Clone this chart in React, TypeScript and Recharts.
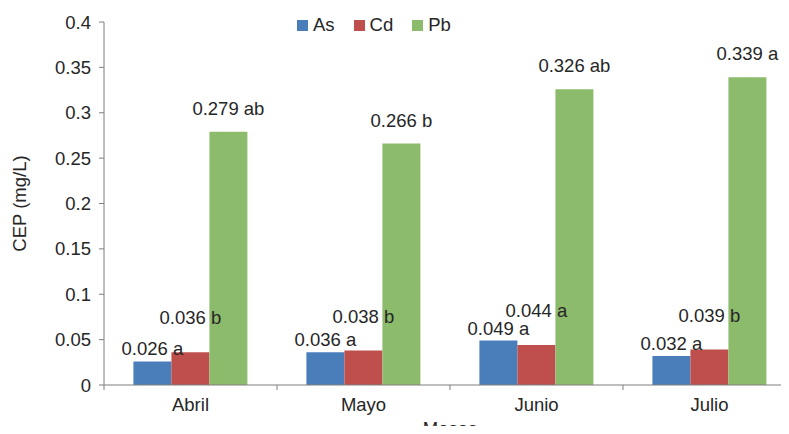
import { Bar, BarChart, LabelList, Legend, XAxis, YAxis } from "recharts"

const months = ["Abril", "Mayo", "Junio", "Julio"]

const asValues = [0.026, 0.036, 0.049, 0.032]
const cdValues = [0.036, 0.038, 0.044, 0.039]
const pbValues = [0.279, 0.266, 0.326, 0.339]

const asLetters = ["a", "a", "a", "a"]
const cdLetters = ["b", "b", "a", "b"]
const pbLetters = ["ab", "b", "ab", "a"]

const yTicks = [0, 0.05, 0.1, 0.15, 0.2, 0.25, 0.3, 0.35, 0.4]

const SERIES = [
    { key: "As", label: "asLabel", color: "#4a7ebb", lift: 6 },
    { key: "Cd", label: "cdLabel", color: "#be4f4c", lift: 28 },
    { key: "Pb", label: "pbLabel", color: "#8dbb6c", lift: 17 },
]

const WIDTH = 800
const HEIGHT = 434
const Y_AXIS_W = 104
const RIGHT = 4
const TICK_SIZE = 5
const X_TICK_MARGIN = 8
const BAND = (WIDTH - Y_AXIS_W - RIGHT) / months.length

const TEXT = "#262626"
const AXIS = "#7f7f7f"
const FONT = 18.5

const fmt = (v: number) => v.toFixed(3)

const data = months.map((month, i) => ({
    month,
    As: asValues[i],
    Cd: cdValues[i],
    Pb: pbValues[i],
    asLabel: `${fmt(asValues[i])} ${asLetters[i]}`,
    cdLabel: `${fmt(cdValues[i])} ${cdLetters[i]}`,
    pbLabel: `${fmt(pbValues[i])} ${pbLetters[i]}`,
}))

// Excel-style category axis: ticks sit on the category boundaries, not the centres
function MonthTick(props: any) {
    const { x, y, payload } = props
    const axisY = y - TICK_SIZE - X_TICK_MARGIN
    const left = x - BAND / 2
    return (
        <g>
            <line x1={left} x2={left} y1={axisY} y2={axisY + TICK_SIZE} stroke={AXIS} />
            <text x={x} y={y} dy="0.71em" textAnchor="middle" fill={TEXT} fontSize={FONT}>
                {payload.value}
            </text>
        </g>
    )
}

// single-line value label above a bar (the default one wraps to the bar width)
const barLabel = (lift: number) => (props: any) => {
    const { x, y, width, value } = props
    return (
        <text x={Number(x) + Number(width) / 2} y={Number(y) - lift} textAnchor="middle" fill={TEXT} fontSize={FONT}>
            {value}
        </text>
    )
}

function SeriesLegend() {
    return (
        <div style={{ display: "flex", alignItems: "center", fontSize: FONT, color: TEXT, lineHeight: "normal" }}>
            {SERIES.map(s => (
                <div key={s.key} style={{ display: "flex", alignItems: "center", marginRight: 19 }}>
                    <span style={{ width: 11, height: 11, background: s.color, marginRight: 5, display: "inline-block" }} />
                    <span>{s.key}</span>
                </div>
            ))}
        </div>
    )
}

export default function App() {
    return (
        <div style={{ margin: -8, width: 789, height: HEIGHT, overflow: "hidden", fontFamily: "'Liberation Sans', Arial, sans-serif", background: "#fff" }}>
            <BarChart
                width={WIDTH}
                height={HEIGHT}
                data={data}
                margin={{ top: 22, right: RIGHT, left: 0, bottom: 0 }}
                barCategoryGap="17%"
                barGap={0}
            >
                <XAxis
                    dataKey="month"
                    height={HEIGHT - 385}
                    tickLine={false}
                    tickSize={TICK_SIZE}
                    tickMargin={X_TICK_MARGIN}
                    interval={0}
                    axisLine={{ stroke: AXIS }}
                    tick={<MonthTick />}
                    label={{ value: "Meses", position: "insideBottom", offset: -1, fill: TEXT, fontSize: FONT }}
                />
                <YAxis
                    width={Y_AXIS_W}
                    domain={[0, 0.4]}
                    ticks={yTicks}
                    interval={0}
                    tickSize={TICK_SIZE}
                    tickMargin={8}
                    axisLine={{ stroke: AXIS }}
                    tickLine={{ stroke: AXIS }}
                    tick={{ fill: TEXT, fontSize: FONT }}
                    label={{
                        value: "CEP (mg/L)",
                        angle: -90,
                        position: "insideLeft",
                        offset: 19,
                        fill: TEXT,
                        fontSize: FONT,
                        style: { textAnchor: "middle" },
                    }}
                />
                <Legend
                    verticalAlign="middle"
                    align="center"
                    content={<SeriesLegend />}
                    wrapperStyle={{ top: 14, left: 297, width: 260 }}
                />
                {SERIES.map(s => (
                    <Bar key={s.key} dataKey={s.key} fill={s.color} isAnimationActive={false}>
                        <LabelList dataKey={s.label} content={barLabel(s.lift)} />
                    </Bar>
                ))}
            </BarChart>
        </div>
    )
}
